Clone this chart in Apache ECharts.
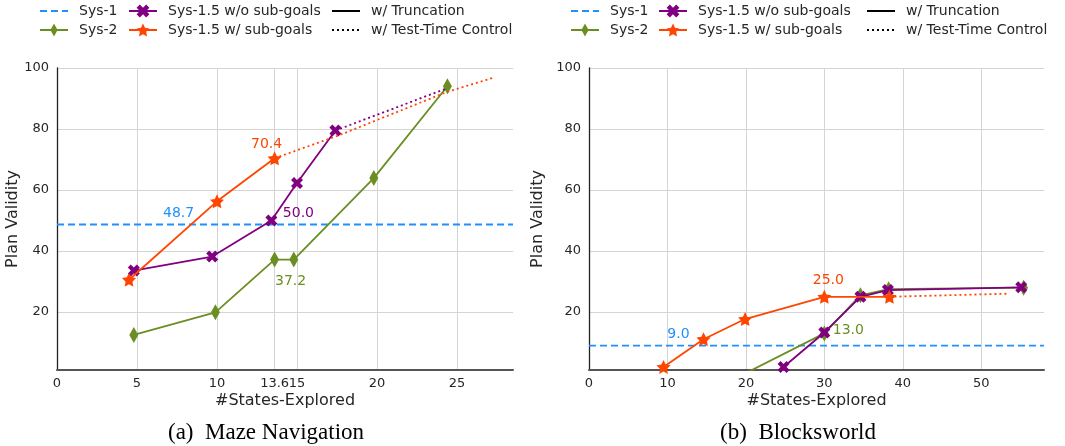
<!DOCTYPE html>
<html>
<head>
<meta charset="utf-8">
<script src="https://cdn.jsdelivr.net/npm/echarts@6/dist/echarts.min.js"></script>
<style>
  html, body { margin: 0; padding: 0; background: #fff; }
  #main { width: 1065px; height: 446px; }
</style>
</head>
<body>
<div id="main"></div>
<script>
// ---- data ----
// (a) Maze Navigation
const mazeSys1 = 48.7;
const mazeSys2 = [[4.8, 12.5], [9.9, 19.9], [13.6, 37.2], [14.8, 37.2], [19.8, 63.9], [24.4, 94.0]];
const mazeNoSub = [[4.8, 33.6], [9.7, 38.2], [13.4, 50.0], [15.0, 62.3], [17.4, 79.5]];
const mazeNoSubCtrl = [[17.4, 79.5], [24.4, 93.4]];
const mazeSub = [[4.5, 30.6], [10.0, 56.3], [13.6, 70.4]];
const mazeSubCtrl = [[13.6, 70.4], [17.6, 77.9], [24.4, 92.2], [27.2, 96.7]];
const mazeXTicks = [0, 5, 10, 13.6, 15, 20, 25];

// (b) Blocksworld
const blocksSys1 = 9.0;
const blocksSys2 = [[20.0, 0.0], [30.0, 13.0], [34.6, 25.5], [38.2, 27.5], [55.4, 28.0]];
const blocksNoSub = [[24.8, 2.0], [30.0, 13.3], [34.6, 25.0], [38.1, 27.2], [55.1, 28.1]];
const blocksSub = [[9.5, 2.0], [14.6, 11.1], [19.9, 17.7], [30.0, 25.0], [38.3, 25.0]];
const blocksSubCtrl = [[38.3, 25.0], [53.2, 26.0]];
const blocksXTicks = [0, 10, 20, 30, 40, 50];

const yTicks = [20, 40, 60, 80, 100];

// ---- style ----
const FONT = 'DejaVu Sans';
const TXT = '#262626';
const BLUE = '#1E90FF', GREEN = '#6B8E23', PURPLE = '#800080', ORANGE = '#FF4500';
const STAR = 'path://M0,-10L2.94,-4.05L9.51,-3.09L4.76,1.55L5.88,8.09L0,5L-5.88,8.09L-4.76,1.55L-9.51,-3.09L-2.94,-4.05Z';
const XMARK = 'path://M-0.5,-1L0,-0.5L0.5,-1L1,-0.5L0.5,0L1,0.5L0.5,1L0,0.5L-0.5,1L-1,0.5L-0.5,0L-1,-0.5Z';
// thin diamond, padded to a square box so it stays thin in the legend too
const THIN_DIAMOND = 'path://M0,-1L0.56,0L0,1L-0.56,0Z M-1,-1L-1,-1 M1,1L1,1';

function lineSeries(name, data, color, opts) {
  opts = opts || {};
  const labels = opts.labels || {};
  return {
    name: name,
    type: 'line',
    xAxisIndex: opts.grid, yAxisIndex: opts.grid,
    z: opts.z || 2,
    symbol: opts.symbol || 'none',
    symbolSize: opts.size || 10,
    showSymbol: !!opts.symbol,
    lineStyle: { color: color, width: 1.8, type: opts.dotted ? [2, 3] : 'solid' },
    itemStyle: { color: color },
    emphasis: { disabled: true },
    animation: false,
    data: data.map((d, i) => {
      const item = { value: d };
      if (labels[i]) {
        item.label = {
          show: true, position: 'inside', offset: labels[i],
          formatter: d[1].toFixed(1),
          color: color, fontSize: 14, fontFamily: FONT
        };
      }
      return item;
    })
  };
}

function sys1Series(value, xMax, labelX, grid) {
  return {
    name: 'Sys-1', type: 'line', xAxisIndex: grid, yAxisIndex: grid, z: 1,
    symbol: 'none', animation: false,
    lineStyle: { color: BLUE, width: 1.8, type: [7, 4] },
    itemStyle: { color: BLUE },
    data: [[0, value], [xMax, value]],
    markPoint: {
      symbol: 'circle', symbolSize: 0, animation: false,
      label: { show: true, position: 'inside', offset: [0, -11], color: BLUE, fontSize: 14,
               fontFamily: FONT, formatter: value.toFixed(1) },
      data: [{ coord: [labelX, value] }]
    }
  };
}

function dummy(name, dotted) {
  return {
    name: name, type: 'line', xAxisIndex: 0, yAxisIndex: 0, symbol: 'none', data: [],
    lineStyle: { color: '#000', width: 1.8, type: dotted ? [2, 3] : 'solid' },
    itemStyle: { color: '#000' }
  };
}

function xAxis(grid, max, ticks) {
  return {
    type: 'value', gridIndex: grid, min: 0, max: max,
    name: '#States-Explored', nameLocation: 'middle', nameGap: 23, nameMoveOverlap: false,
    nameTextStyle: { fontSize: 16, color: TXT, fontFamily: FONT },
    axisLine: { show: true, lineStyle: { color: '#555', width: 2 } },
    axisTick: { show: false, customValues: ticks },
    axisLabel: { customValues: ticks, fontSize: 13, color: TXT, fontFamily: FONT, margin: 7 },
    splitLine: { show: true, lineStyle: { color: '#d4d4d4', width: 1 } }
  };
}

function yAxis(grid, gap) {
  return {
    type: 'value', gridIndex: grid, min: 1, max: 100,
    name: 'Plan Validity', nameLocation: 'middle', nameGap: gap, nameRotate: 90, nameMoveOverlap: false,
    nameTextStyle: { fontSize: 16, color: TXT, fontFamily: FONT },
    axisLine: { show: true, lineStyle: { color: '#222', width: 1.3 } },
    axisTick: { show: false, customValues: yTicks },
    axisLabel: { customValues: yTicks, fontSize: 13, color: TXT, fontFamily: FONT, margin: 8 },
    splitLine: { show: true, lineStyle: { color: '#d4d4d4', width: 1 } }
  };
}

// line-only entries: hide the marker that the legend would otherwise add
const noMarker = { opacity: 0 };
const legendCols = [
  [{ name: 'Sys-1', itemStyle: noMarker }, 'Sys-2'],
  ['Sys-1.5 w/o sub-goals', 'Sys-1.5 w/ sub-goals'],
  [{ name: 'w/ Truncation', itemStyle: noMarker }, { name: 'w/ Test-Time Control', itemStyle: noMarker }]
];
const legendLefts = [[39, 128, 331], [570, 658, 866]];
const legends = [];
legendLefts.forEach(lefts => {
  lefts.forEach((left, c) => {
    legends.push({
      data: legendCols[c], orient: 'vertical', left: left, top: 4, padding: 0,
      itemGap: 5, itemWidth: 28, itemHeight: 16, selectedMode: false,
      textStyle: { fontSize: 14, color: TXT, fontFamily: FONT, padding: [0, 0, 0, 6] }
    });
  });
});

const option = {
  backgroundColor: '#fff',
  animation: false,
  legend: legends,
  grid: [
    { left: 57, right: 552, top: 68, bottom: 76 },
    { left: 589, right: 21, top: 68, bottom: 76 }
  ],
  xAxis: [xAxis(0, 28.5, mazeXTicks), xAxis(1, 58, blocksXTicks)],
  yAxis: [yAxis(0, 36), yAxis(1, 43)],
  graphic: [
    { type: 'text', x: 266, y: 433, style: { text: '(a)  Maze Navigation', font: '23px "Liberation Serif"',
      fill: '#000', textAlign: 'center', textVerticalAlign: 'middle' } },
    { type: 'text', x: 798, y: 433, style: { text: '(b)  Blocksworld', font: '23px "Liberation Serif"',
      fill: '#000', textAlign: 'center', textVerticalAlign: 'middle' } }
  ],
  series: [
    sys1Series(mazeSys1, 28.5, 7.6, 0),
    lineSeries('Sys-2', mazeSys2, GREEN, { grid: 0, symbol: THIN_DIAMOND, size: 16, z: 3, labels: { 2: [16, 22] } }),
    lineSeries('Sys-1.5 w/o sub-goals', mazeNoSub, PURPLE, { grid: 0, symbol: XMARK, size: 12, z: 4, labels: { 2: [27, -7] } }),
    lineSeries('Sys-1.5 w/o sub-goals ctrl', mazeNoSubCtrl, PURPLE, { grid: 0, dotted: true, z: 4 }),
    lineSeries('Sys-1.5 w/ sub-goals', mazeSub, ORANGE, { grid: 0, symbol: STAR, size: 14, z: 5, labels: { 2: [-8, -14] } }),
    lineSeries('Sys-1.5 w/ sub-goals ctrl', mazeSubCtrl, ORANGE, { grid: 0, dotted: true, z: 5 }),

    sys1Series(blocksSys1, 58, 11.4, 1),
    lineSeries('Sys-2', blocksSys2, GREEN, { grid: 1, symbol: THIN_DIAMOND, size: 16, z: 3, labels: { 1: [24, -3] } }),
    lineSeries('Sys-1.5 w/o sub-goals', blocksNoSub, PURPLE, { grid: 1, symbol: XMARK, size: 12, z: 4 }),
    lineSeries('Sys-1.5 w/ sub-goals', blocksSub, ORANGE, { grid: 1, symbol: STAR, size: 14, z: 5, labels: { 3: [4, -16] } }),
    lineSeries('Sys-1.5 w/ sub-goals ctrl', blocksSubCtrl, ORANGE, { grid: 1, dotted: true, z: 5 }),

    dummy('w/ Truncation', false),
    dummy('w/ Test-Time Control', true)
  ]
};

const chart = echarts.init(document.getElementById('main'), null, { renderer: 'canvas' });
chart.setOption(option);
</script>
</body>
</html>
